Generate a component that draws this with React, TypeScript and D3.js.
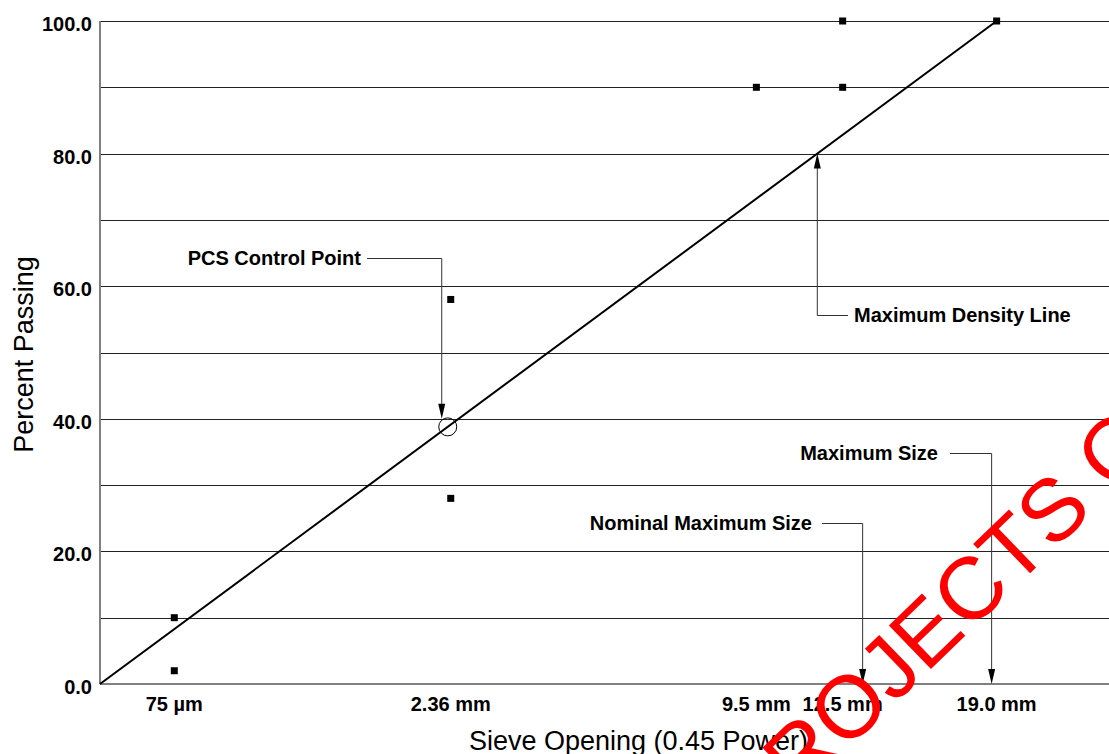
import React from "react";
import * as d3 from "d3";

// sieve sizes (mm) shown on the 0.45 power axis
const sieveSizes = [0.075, 2.36, 9.5, 12.5, 19.0];
const sieveLabels = ["75 µm", "2.36 mm", "9.5 mm", "12.5 mm", "19.0 mm"];

// control points (sieve in mm, percent passing)
const controlSieves = [0.075, 0.075, 2.36, 2.36, 9.5, 12.5, 12.5, 19.0];
const controlValues = [2, 10, 28, 58, 90, 90, 100, 100];

const yTicks = [0, 20, 40, 60, 80, 100];
const gridValues = [10, 20, 30, 40, 50, 60, 70, 80, 90, 100];

const maxSize = 19.0;
const nominalMaxSize = 12.5;
const pcsSieve = 2.36;
const axisEndSieve = 24.7;

const width = 1109;
const height = 754;
const margin = { top: 21, right: 0, bottom: 70, left: 100 };

const pw = (s: number) => Math.pow(s, 0.45);

const FONT = "Arial, 'Liberation Sans', Helvetica, sans-serif";

const Arrow = ({ x, y, dir }: { x: number; y: number; dir: number }) => {
  // dir = 1 pointing down, -1 pointing up
  const len = 15;
  const hw = 3.5;
  return (
    <path
      d={`M${x},${y} L${x - hw},${y - dir * len} L${x + hw},${y - dir * len} Z`}
      fill="#000"
    />
  );
};

const App = () => {
  const x = d3
    .scaleLinear()
    .domain([0, pw(axisEndSieve)])
    .range([margin.left, width - margin.right]);

  const y = d3
    .scaleLinear()
    .domain([0, 100])
    .range([height - margin.bottom, margin.top]);

  const line = d3
    .line<[number, number]>()
    .x((d) => x(d[0]))
    .y((d) => y(d[1]));

  const densityLine = line([
    [0, 0],
    [pw(maxSize), 100],
  ]);

  // PCS control point lies on the maximum density line
  const pcsValue = (100 * pw(pcsSieve)) / pw(maxSize);
  const pcsX = x(pw(pcsSieve)) - 3;
  const pcsY = y(pcsValue * (pcsX - x(0)) / (x(pw(pcsSieve)) - x(0)));
  const pcsR = 9;

  // maximum density line callout at 80 %
  const mdX = x(0.8 * pw(maxSize));
  const mdY = y(80);

  const maxX = x(pw(maxSize)) - 5;
  const nomX = x(pw(nominalMaxSize)) + 20;
  const y0 = y(0);

  const lbl = { fontFamily: FONT, fontWeight: 700, fontSize: 20, fill: "#000" };

  return (
    <svg
      width={width}
      height={height}
      style={{ position: "absolute", left: 0, top: 0, background: "#fff" }}
    >
      {/* grid */}
      {gridValues.map((v) => (
        <line
          key={v}
          x1={x.range()[0]}
          x2={x.range()[1]}
          y1={Math.round(y(v)) + 0.5}
          y2={Math.round(y(v)) + 0.5}
          stroke="#222"
          strokeWidth={1}
        />
      ))}

      {/* axes */}
      <line x1={margin.left} x2={margin.left} y1={y(100)} y2={y0} stroke="#808080" strokeWidth={2} />
      <line x1={margin.left} x2={width} y1={y0} y2={y0} stroke="#808080" strokeWidth={2} />

      {/* y tick labels */}
      {yTicks.map((v) => (
        <text key={v} x={92} y={y(v) + 10} textAnchor="end" {...lbl}>
          {v.toFixed(1)}
        </text>
      ))}

      {/* x tick labels */}
      {sieveSizes.map((s, i) => (
        <text key={s} x={x(pw(s))} y={y0 + 27} textAnchor="middle" {...lbl}>
          {sieveLabels[i]}
        </text>
      ))}

      {/* axis titles */}
      <text
        x={(margin.left + width) / 2 + 34}
        y={height - 4}
        textAnchor="middle"
        fontFamily={FONT}
        fontSize={27}
      >
        Sieve Opening (0.45 Power)
      </text>
      <text
        transform={`translate(33, ${(y(0) + y(100)) / 2 + 2}) rotate(-90)`}
        textAnchor="middle"
        fontFamily={FONT}
        fontSize={27}
      >
        Percent Passing
      </text>

      {/* maximum density line */}
      <path d={densityLine ?? ""} fill="none" stroke="#000" strokeWidth={2} />

      {/* control points */}
      {controlSieves.map((s, i) => (
        <rect
          key={i}
          x={x(pw(s)) - 3.5}
          y={y(controlValues[i]) - 3.5}
          width={7}
          height={7}
          fill="#000"
        />
      ))}

      {/* PCS control point */}
      <circle cx={pcsX} cy={pcsY} r={pcsR} fill="none" stroke="#000" strokeWidth={1} />
      <text x={361} y={258 + 7} textAnchor="end" {...lbl}>
        PCS Control Point
      </text>
      <polyline
        points={`367,258.5 ${pcsX - 6},258.5 ${pcsX - 6},${pcsY - pcsR - 14}`}
        fill="none"
        stroke="#333"
        strokeWidth={1}
      />
      <Arrow x={pcsX - 6} y={pcsY - pcsR + 1} dir={1} />

      {/* maximum density line callout */}
      <polyline
        points={`${mdX},${mdY + 14} ${mdX},315.5 848,315.5`}
        fill="none"
        stroke="#333"
        strokeWidth={1}
      />
      <Arrow x={mdX} y={mdY} dir={-1} />
      <text x={854} y={315 + 7} {...lbl}>
        Maximum Density Line
      </text>

      {/* maximum size */}
      <text x={938} y={453 + 7} textAnchor="end" {...lbl}>
        Maximum Size
      </text>
      <polyline
        points={`950,453.5 ${maxX},453.5 ${maxX},${y0 - 14}`}
        fill="none"
        stroke="#333"
        strokeWidth={1}
      />
      <Arrow x={maxX} y={y0} dir={1} />

      {/* nominal maximum size */}
      <text x={812} y={523 + 7} textAnchor="end" {...lbl}>
        Nominal Maximum Size
      </text>
      <polyline
        points={`822,523.5 ${nomX},523.5 ${nomX},${y0 - 14}`}
        fill="none"
        stroke="#333"
        strokeWidth={1}
      />
      <Arrow x={nomX} y={y0} dir={1} />

      {/* watermark */}
      <text
        transform="translate(757, 837) rotate(-44)"
        fontFamily={FONT}
        fontSize={88}
        fill="#ff0000"
      >
        PROJECTS ONLY
      </text>
    </svg>
  );
};

export default App;
